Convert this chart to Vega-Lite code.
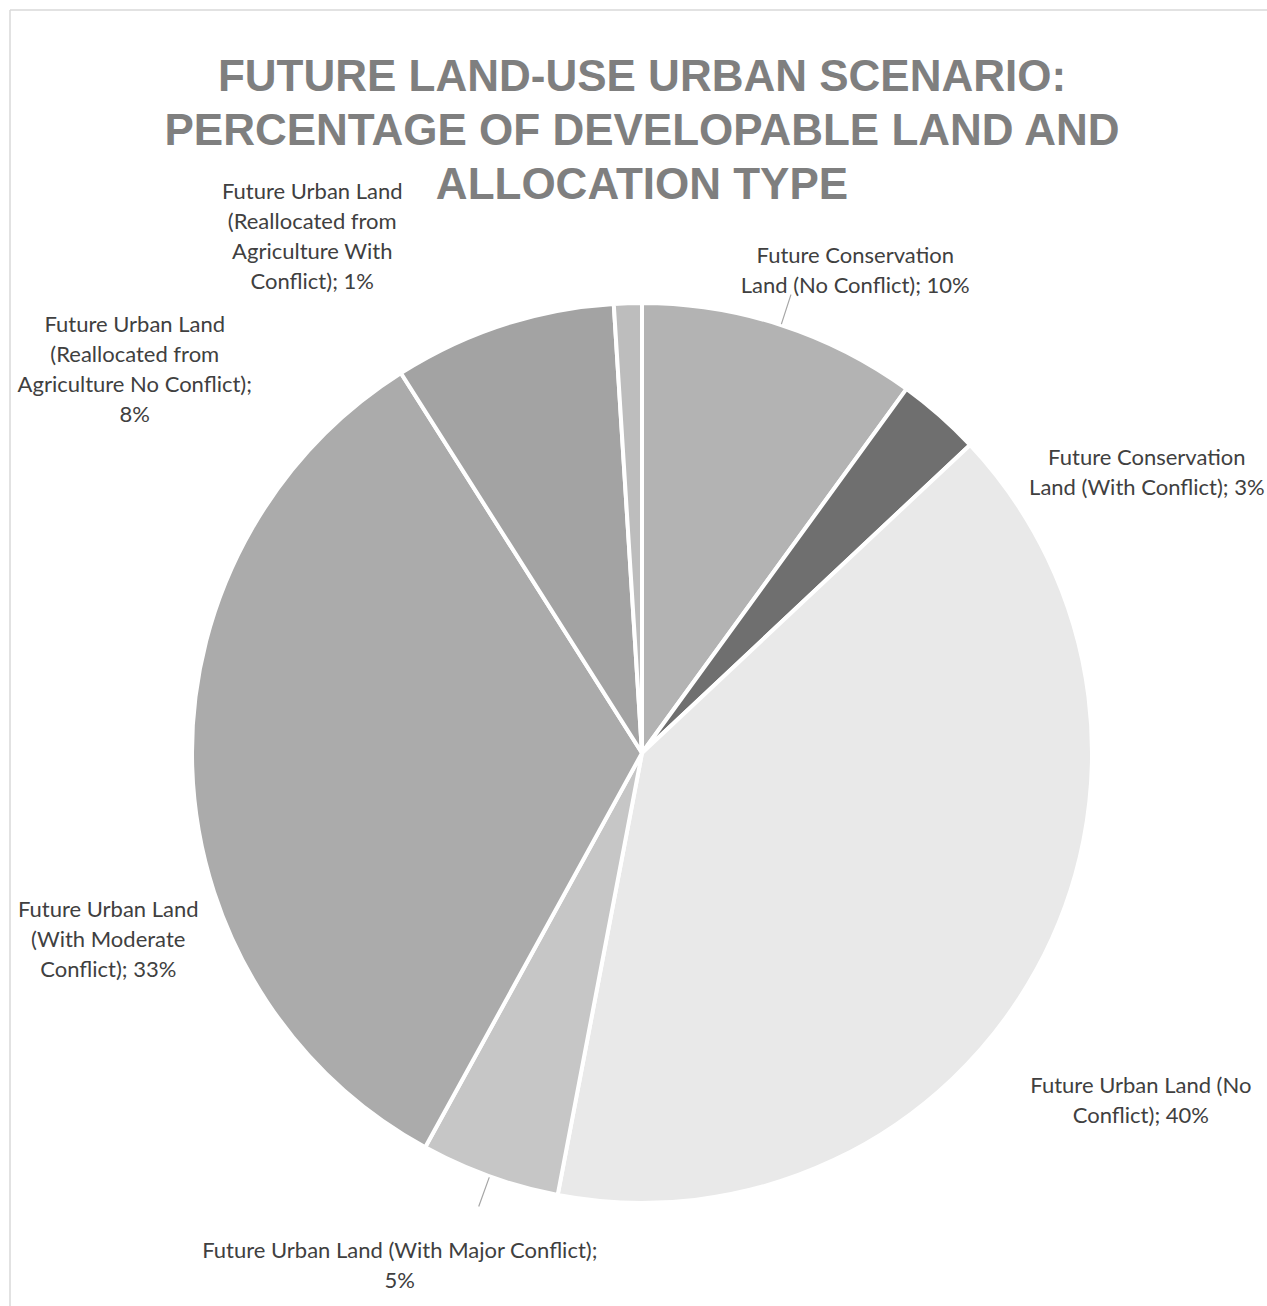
{
  "$schema": "https://vega.github.io/schema/vega-lite/v6.json",
  "width": 1257,
  "height": 1296,
  "autosize": {"type": "none"},
  "padding": {"left": 10, "top": 10, "right": 0, "bottom": 0},
  "background": "white",
  "view": {"stroke": "#d9d9d9", "strokeWidth": 1.5, "strokeDash": [1257, 2553, 1296, 0]},
  "title": {
    "text": ["FUTURE LAND-USE URBAN SCENARIO:", "PERCENTAGE OF DEVELOPABLE LAND AND", "ALLOCATION TYPE"],
    "anchor": "middle",
    "frame": "group",
    "orient": "top",
    "baseline": "top",
    "offset": -198,
    "dx": 3.5,
    "font": "Liberation Sans",
    "fontSize": 44,
    "fontWeight": "bold",
    "color": "#7f7f7f",
    "lineHeight": 54
  },
  "data": {
    "values": [
      {"category": "Future Conservation Land (No Conflict)", "share": 10, "label": "Future Conservation\nLand (No Conflict); 10%", "order": 1},
      {"category": "Future Conservation Land (With Conflict)", "share": 3, "label": "Future Conservation\nLand (With Conflict); 3%", "order": 2},
      {"category": "Future Urban Land (No Conflict)", "share": 40, "label": "Future Urban Land (No\nConflict); 40%", "order": 3},
      {"category": "Future Urban Land (With Major Conflict)", "share": 5, "label": "Future Urban Land (With Major Conflict);\n5%", "order": 4},
      {"category": "Future Urban Land (With Moderate Conflict)", "share": 33, "label": "Future Urban Land\n(With Moderate\nConflict); 33%", "order": 5},
      {"category": "Future Urban Land (Reallocated from Agriculture No Conflict)", "share": 8, "label": "Future Urban Land\n(Reallocated from\nAgriculture No Conflict);\n8%", "order": 6},
      {"category": "Future Urban Land (Reallocated from Agriculture With Conflict)", "share": 1, "label": "Future Urban Land\n(Reallocated from\nAgriculture With\nConflict); 1%", "order": 7}
    ]
  },
  "encoding": {
    "theta": {"field": "share", "type": "quantitative", "stack": true},
    "order": {"field": "order", "type": "quantitative"}
  },
  "layer": [
    {
      "mark": {"type": "arc", "radius": 450, "stroke": "white", "strokeWidth": 4, "xOffset": 3.5, "yOffset": 95},
      "encoding": {
        "color": {
          "field": "category",
          "type": "nominal",
          "scale": {
            "domain": [
              "Future Conservation Land (No Conflict)",
              "Future Conservation Land (With Conflict)",
              "Future Urban Land (No Conflict)",
              "Future Urban Land (With Major Conflict)",
              "Future Urban Land (With Moderate Conflict)",
              "Future Urban Land (Reallocated from Agriculture No Conflict)",
              "Future Urban Land (Reallocated from Agriculture With Conflict)"
            ],
            "range": ["#b3b3b3", "#6f6f6f", "#e9e9e9", "#c6c6c6", "#ababab", "#a3a3a3", "#bdbdbd"]
          },
          "legend": null
        }
      }
    },
    {
      "mark": {"type": "arc", "radius": 482, "radius2": 451, "padAngle": 3, "filled": false, "stroke": "#a6a6a6", "strokeWidth": 1.2, "xOffset": 3.5, "yOffset": 95},
      "encoding": {
        "detail": {"field": "category", "type": "nominal"},
        "strokeOpacity": {"condition": {"test": "datum.order == 1 || datum.order == 4", "value": 1}, "value": 0}
      }
    },
    {
      "mark": {"type": "text", "radius": 470, "dx": 71.5, "dy": 45, "align": "center", "baseline": "middle", "font": "Lato", "fontSize": 22, "lineHeight": 30, "lineBreak": "\n", "color": "#404040"},
      "encoding": {"detail": {"field": "category", "type": "nominal"}, "text": {"condition": {"test": "datum.order == 1", "field": "label", "type": "nominal"}, "value": ""}}
    },
    {
      "mark": {"type": "text", "radius": 470, "dx": 197.5, "dy": 153, "align": "center", "baseline": "middle", "font": "Lato", "fontSize": 22, "lineHeight": 30, "lineBreak": "\n", "color": "#404040"},
      "encoding": {"detail": {"field": "category", "type": "nominal"}, "text": {"condition": {"test": "datum.order == 2", "field": "label", "type": "nominal"}, "value": ""}}
    },
    {
      "mark": {"type": "text", "radius": 470, "dx": 90.5, "dy": 202, "align": "center", "baseline": "middle", "font": "Lato", "fontSize": 22, "lineHeight": 30, "lineBreak": "\n", "color": "#404040"},
      "encoding": {"detail": {"field": "category", "type": "nominal"}, "text": {"condition": {"test": "datum.order == 3", "field": "label", "type": "nominal"}, "value": ""}}
    },
    {
      "mark": {"type": "text", "radius": 470, "dx": -79.5, "dy": 151, "align": "center", "baseline": "middle", "font": "Lato", "fontSize": 22, "lineHeight": 30, "lineBreak": "\n", "color": "#404040"},
      "encoding": {"detail": {"field": "category", "type": "nominal"}, "text": {"condition": {"test": "datum.order == 4", "field": "label", "type": "nominal"}, "value": ""}}
    },
    {
      "mark": {"type": "text", "radius": 470, "dx": -60.5, "dy": 237, "align": "center", "baseline": "middle", "font": "Lato", "fontSize": 22, "lineHeight": 30, "lineBreak": "\n", "color": "#404040"},
      "encoding": {"detail": {"field": "category", "type": "nominal"}, "text": {"condition": {"test": "datum.order == 5", "field": "label", "type": "nominal"}, "value": ""}}
    },
    {
      "mark": {"type": "text", "radius": 470, "dx": -358.5, "dy": 114, "align": "center", "baseline": "middle", "font": "Lato", "fontSize": 22, "lineHeight": 30, "lineBreak": "\n", "color": "#404040"},
      "encoding": {"detail": {"field": "category", "type": "nominal"}, "text": {"condition": {"test": "datum.order == 6", "field": "label", "type": "nominal"}, "value": ""}}
    },
    {
      "mark": {"type": "text", "radius": 470, "dx": -311.5, "dy": 4, "align": "center", "baseline": "middle", "font": "Lato", "fontSize": 22, "lineHeight": 30, "lineBreak": "\n", "color": "#404040"},
      "encoding": {"detail": {"field": "category", "type": "nominal"}, "text": {"condition": {"test": "datum.order == 7", "field": "label", "type": "nominal"}, "value": ""}}
    }
  ]
}
